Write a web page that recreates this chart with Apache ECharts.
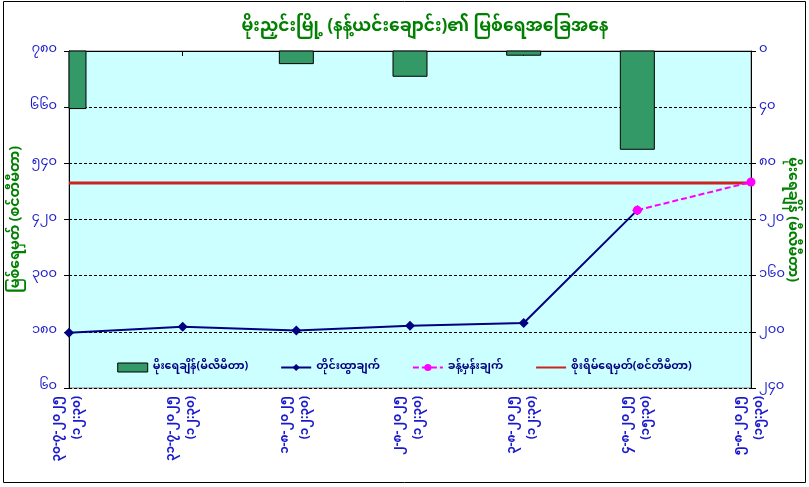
<!DOCTYPE html>
<html>
<head>
<meta charset="utf-8">
<script src="https://cdn.jsdelivr.net/npm/echarts@6/dist/echarts.min.js"></script>
<style>html,body{margin:0;padding:0;background:#fff}#c{width:809px;height:487px}</style>
</head>
<body>
<div id="c"></div>
<script>
const dates = ['၃၀-၇-၂၀၂၅','၃၁-၇-၂၀၂၅','၁-၈-၂၀၂၅','၂-၈-၂၀၂၅','၃-၈-၂၀၂၅','၄-၈-၂၀၂၅','၅-၈-၂၀၂၅'];
const times = ['(၁၂:၃၀)','(၁၂:၃၀)','(၁၂:၃၀)','(၁၂:၃၀)','(၁၂:၃၀)','(၁၅:၃၀)','(၁၅:၃၀)'];
const rainfall = [41, 0, 9, 18, 3, 70, 0];
const observed = [178, 191, 183, 193, 199, 440, null];
const forecast = [null, null, null, null, null, 440, 500];
const dangerLevel = [498, 498, 498, 498, 498, 498, 498];
const leftTicks = [60, 780, 120];   // min, max, interval
const rightTicks = [0, 240, 40];
const burmeseDigits = '၀၁၂၃၄၅၆၇၈၉';
function toMy(n){ return String(n).replace(/[0-9]/g, d => burmeseDigits[+d]); }

const FF = '"Noto Sans Myanmar","Padauk","Myanmar Text","Noto Sans",sans-serif';
const BAR_W = 34;
const chart = echarts.init(document.getElementById('c'));
chart.setOption({
  backgroundColor: '#ffffff',
  animation: false,
  textStyle: { fontFamily: FF },
  title: {
    text: 'မိုးညှင်းမြို့ (နန့်ယင်းချောင်း)၏ မြစ်ရေအခြေအနေ',
    left: 420, top: 16, textAlign: 'center',
    textStyle: { color: '#008000', fontSize: 17, fontWeight: 'bold', fontFamily: FF }
  },
  graphic: [{
    type: 'rect', shape: { x: 3.5, y: 1.5, width: 802, height: 481 },
    style: { fill: 'none', stroke: '#000', lineWidth: 1 }, silent: true, z: -1
  }],
  legend: {
    bottom: 109, left: 'center', itemGap: 32, itemWidth: 30, itemHeight: 9,
    textStyle: { color: '#000080', fontSize: 11, fontWeight: 'bold', fontFamily: FF },
    data: [
      { name: 'မိုးရေချိန်(မီလီမီတာ)', icon: 'rect', itemStyle: { color: '#339966', borderColor: '#000', borderWidth: 1 } },
      { name: 'တိုင်းထွာချက်' },
      { name: 'ခန့်မှန်းချက်' },
      { name: 'စိုးရိမ်ရေမှတ်(စင်တီမီတာ)', itemStyle: { opacity: 0 } }
    ]
  },
  grid: { left: 69, right: 58, top: 51, bottom: 99, outerBoundsMode: 'none', containLabel: false,
    show: true, backgroundColor: '#CCFFFF', borderColor: '#808080', borderWidth: 1 },
  xAxis: {
    type: 'category', boundaryGap: false,
    data: dates.map((d, i) => d + '\n' + times[i]),
    axisLine: { lineStyle: { color: '#000', width: 1 } },
    axisTick: { show: true, inside: false, length: 5, lineStyle: { color: '#000' } },
    axisLabel: { rotate: 90, color: '#1A1ACC', fontSize: 12, fontWeight: 'bold', margin: 8, lineHeight: 20, fontFamily: FF },
    splitLine: { show: false }
  },
  yAxis: [{
    type: 'value', position: 'left', min: leftTicks[0], max: leftTicks[1], interval: leftTicks[2],
    name: 'မြစ်ရေမှတ် (စင်တီမီတာ)', nameLocation: 'middle', nameGap: 44, nameRotate: 90, nameMoveOverlap: false,
    nameTextStyle: { color: '#008000', fontSize: 14, fontWeight: 'bold', fontFamily: FF },
    axisLine: { show: true, lineStyle: { color: '#000' } },
    axisTick: { show: true, length: 5, lineStyle: { color: '#000' } },
    axisLabel: { color: '#1A1ACC', fontSize: 13, margin: 12, formatter: v => toMy(v), fontFamily: FF },
    splitLine: { show: true, lineStyle: { color: '#000', type: [3, 2], width: 1 } }
  }, {
    type: 'value', position: 'right', inverse: true, min: rightTicks[0], max: rightTicks[1], interval: rightTicks[2],
    name: 'မိုးရေချိန် (မီလီမီတာ)', nameLocation: 'middle', nameGap: 32, nameRotate: -90, nameMoveOverlap: false,
    nameTextStyle: { color: '#008000', fontSize: 14, fontWeight: 'bold', fontFamily: FF },
    axisLine: { show: true, lineStyle: { color: '#000' } },
    axisTick: { show: true, length: 5, lineStyle: { color: '#000' } },
    axisLabel: { color: '#1A1ACC', fontSize: 13, margin: 8, formatter: v => toMy(v), fontFamily: FF },
    splitLine: { show: false }
  }],
  series: [{
    name: 'မိုးရေချိန်(မီလီမီတာ)', type: 'custom', yAxisIndex: 1,
    data: rainfall.map((v, i) => [i, v]),
    encode: { x: 0, y: 1 },
    itemStyle: { color: '#339966', borderColor: '#000', borderWidth: 1 },
    renderItem: function (params, api) {
      const v = api.value(1);
      if (!v) return null;
      const p0 = api.coord([api.value(0), 0]);
      const p1 = api.coord([api.value(0), v]);
      const cs = params.coordSys;
      const rect = echarts.graphic.clipRectByRect(
        { x: p0[0] - BAR_W / 2, y: Math.min(p0[1], p1[1]), width: BAR_W, height: Math.abs(p1[1] - p0[1]) },
        { x: cs.x, y: cs.y, width: cs.width, height: cs.height });
      if (!rect) return null;
      return { type: 'rect', shape: rect, style: { fill: '#339966', stroke: '#000', lineWidth: 1 } };
    }
  }, {
    name: 'တိုင်းထွာချက်', type: 'line', data: observed, symbol: 'diamond', symbolSize: 10,
    lineStyle: { color: '#000080', width: 2 }, itemStyle: { color: '#000080' }, z: 4
  }, {
    name: 'ခန့်မှန်းချက်', type: 'line', data: forecast, symbol: 'circle', symbolSize: 9,
    lineStyle: { color: '#FF00FF', width: 2, type: [6, 3] }, itemStyle: { color: '#FF00FF' }, z: 5
  }, {
    name: 'စိုးရိမ်ရေမှတ်(စင်တီမီတာ)', type: 'line', data: dangerLevel, symbol: 'none',
    lineStyle: { color: '#CC2222', width: 3 }, itemStyle: { color: '#CC2222' }, z: 3
  }]
});
</script>
</body>
</html>
